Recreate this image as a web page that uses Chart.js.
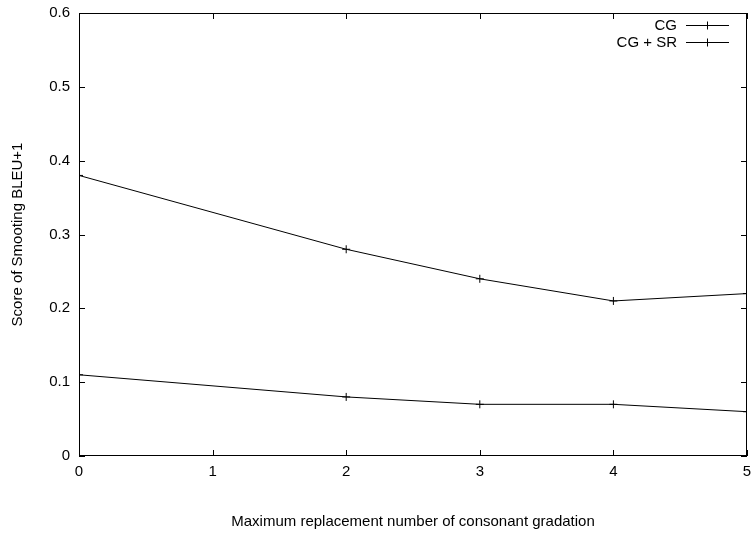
<!DOCTYPE html>
<html lang="en">
<head>
    <meta charset="UTF-8">
    <title>Smoothing BLEU+1</title>
    <script src="https://cdn.jsdelivr.net/npm/chart.js"></script>
    <style>
        html, body { margin: 0; padding: 0; background: #fff; }
        #wrap { width: 752px; height: 533px; }
    </style>
</head>
<body>
    <div id="wrap"><canvas id="chart"></canvas></div>

    <script>
        // values
        const xValues = [0, 2, 3, 4, 5];
        const cgValues = [0.11, 0.08, 0.07, 0.07, 0.06];
        const cgSrValues = [0.38, 0.28, 0.24, 0.21, 0.22];
        const seriesLabels = ['CG', 'CG + SR'];
        const xTitle = 'Maximum replacement number of consonant gradation';
        const yTitle = 'Score of Smooting BLEU+1';

        const font = 'Liberation Sans, Arial, sans-serif';
        const fsize = 15;

        function points(vals) {
            return vals.map((v, i) => ({ x: xValues[i], y: v }));
        }

        // gnuplot style frame, inward ticks and legend
        const framePlugin = {
            id: 'frame',
            afterDraw(chart) {
                const c = chart.ctx;
                const a = chart.chartArea;
                const xs = chart.scales.x, ys = chart.scales.y;
                const t = 6;
                c.save();
                c.strokeStyle = '#000';
                c.lineWidth = 1;
                c.strokeRect(a.left + 0.5, a.top + 0.5, a.right - a.left - 1, a.bottom - a.top - 1);
                c.beginPath();
                ys.ticks.forEach(tk => {
                    const py = Math.round(ys.getPixelForValue(tk.value)) + 0.5;
                    c.moveTo(a.left, py); c.lineTo(a.left + t, py);
                    c.moveTo(a.right, py); c.lineTo(a.right - t, py);
                });
                xs.ticks.forEach(tk => {
                    const px = Math.round(xs.getPixelForValue(tk.value)) + 0.5;
                    c.moveTo(px, a.bottom); c.lineTo(px, a.bottom - t);
                    c.moveTo(px, a.top); c.lineTo(px, a.top + t);
                });
                c.stroke();

                // legend
                c.font = fsize + 'px ' + font;
                c.fillStyle = '#000';
                c.textAlign = 'right';
                c.textBaseline = 'middle';
                chart.data.datasets.forEach((ds, i) => {
                    const ly = 25 + i * 17 + 0.5;
                    c.fillText(ds.label, 677, ly);
                    c.beginPath();
                    c.moveTo(686, ly); c.lineTo(729, ly);
                    c.moveTo(707.5, ly - 4); c.lineTo(707.5, ly + 4);
                    c.moveTo(703.5, ly); c.lineTo(711.5, ly);
                    c.stroke();
                });
                c.restore();
            }
        };

        const ds = (label, vals) => ({
            label: label,
            data: points(vals),
            borderColor: '#000',
            backgroundColor: '#000',
            borderWidth: 1,
            pointStyle: 'cross',
            pointRadius: 4,
            pointBorderWidth: 1,
            pointHoverRadius: 4,
            tension: 0
        });

        new Chart(document.getElementById('chart'), {
            type: 'line',
            data: {
                datasets: [ds(seriesLabels[0], cgValues), ds(seriesLabels[1], cgSrValues)]
            },
            options: {
                responsive: true,
                maintainAspectRatio: false,
                animation: false,
                layout: { padding: { top: 13, right: 4, left: 0, bottom: 0 } },
                plugins: {
                    legend: { display: false },
                    tooltip: { enabled: false }
                },
                scales: {
                    x: {
                        type: 'linear',
                        min: 0, max: 5,
                        ticks: { stepSize: 1, color: '#000', font: { family: font, size: fsize }, padding: 7, maxRotation: 0 },
                        grid: { display: false, drawTicks: false },
                        border: { display: false },
                        title: { display: true, text: xTitle, color: '#000', font: { family: font, size: fsize }, padding: { top: 10, bottom: 2 } },
                        afterFit(s) { s.height = 77; s.paddingLeft = 0; s.paddingRight = 0; }
                    },
                    y: {
                        min: 0, max: 0.6,
                        ticks: { stepSize: 0.1, color: '#000', font: { family: font, size: fsize }, padding: 9 },
                        grid: { display: false, drawTicks: false },
                        border: { display: false },
                        title: { display: true, text: yTitle, color: '#000', font: { family: font, size: fsize }, padding: { top: 9, bottom: 10 } },
                        afterFit(s) { s.width = 79; s.paddingTop = 0; s.paddingBottom = 0; }
                    }
                }
            },
            plugins: [framePlugin]
        });
    </script>
</body>
</html>
